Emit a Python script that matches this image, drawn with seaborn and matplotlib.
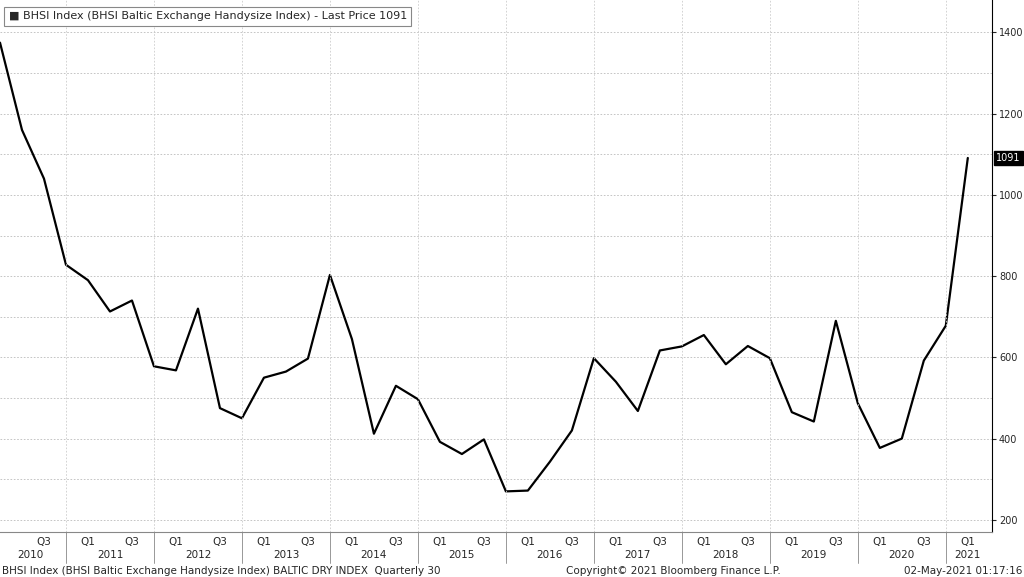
import numpy as np
import pandas as pd
import matplotlib.pyplot as plt
import seaborn as sns

# Quarterly BHSI values, Q1 2010 .. Q1 2021
values = [1375, 1160, 1040, 828, 790, 713, 740, 578, 568, 720, 475, 450,
          550, 565, 597, 803, 645, 412, 530, 497, 392, 362, 398, 270,
          272, 343, 420, 598, 540, 468, 617, 627, 655, 583, 628, 598,
          465, 442, 690, 487, 377, 400, 592, 678, 1091]
years = list(range(2010, 2022))
y_ticks = [200, 400, 600, 800, 1000, 1200, 1400]

df = pd.DataFrame({"q": np.arange(len(values)), "price": values})

sns.set_style("white")
plt.rcParams["font.family"] = ["DejaVu Sans"]

fig = plt.figure(figsize=(10.24, 5.77), dpi=100)
ax = fig.add_axes([0, 0.078, 992 / 1024, 0.922])

sns.lineplot(data=df, x="q", y="price", color="black", linewidth=1.6, ax=ax)

ax.set_xlim(0, 45.1)
ax.set_ylim(170, 1480)
ax.yaxis.tick_right()
ax.set_yticks(y_ticks)
ax.set_yticks(range(300, 1500, 200), minor=True)
ax.tick_params(axis="y", which="major", labelsize=7, length=3, pad=2, direction="out")
ax.tick_params(axis="y", which="minor", length=0)
ax.grid(True, axis="y", which="both", color="#bbbbbb", linestyle=(0, (2, 2)), linewidth=0.6)
ax.set_xlabel("")
ax.set_ylabel("")
ax.set_xticks([])
for s in ["top", "left"]:
    ax.spines[s].set_visible(False)
ax.spines["right"].set_color("black")
ax.spines["bottom"].set_color("#888888")

# year boundaries
for k in range(11):
    ax.axvline(3 + 4 * k, color="#cccccc", linestyle=(0, (2, 2)), linewidth=0.6)

# bottom two-row labels
tr = ax.get_xaxis_transform()
for i in range(1, len(values)):
    qn = i % 4 + 1
    if qn in (1, 3):
        ax.text(i, -0.018, f"Q{qn}", transform=tr, ha="center", va="center", fontsize=7.5)
for k, yr in enumerate(years):
    c = 4 * k + 1 if yr > 2010 else 1.4
    if yr == 2021:
        c = 44
    ax.text(c, -0.043, str(yr), transform=tr, ha="center", va="center", fontsize=7.5)
for k in range(11):
    ax.plot([3 + 4 * k] * 2, [0, -0.058], transform=tr, color="#888888", lw=0.6, clip_on=False)

# last price tag
ax.text(45.3, 1091, "1091", ha="left", va="center", fontsize=7, color="white",
        bbox=dict(boxstyle="square,pad=0.25", fc="black", ec="black"), clip_on=False)

# legend box
ax.text(0.4, 1440, "\u25a0 BHSI Index (BHSI Baltic Exchange Handysize Index) - Last Price 1091",
        fontsize=8, va="center", ha="left",
        bbox=dict(boxstyle="square,pad=0.4", fc="white", ec="#888888", lw=0.8))

fig.text(0.002, 0.006, "BHSI Index (BHSI Baltic Exchange Handysize Index) BALTIC DRY INDEX  Quarterly 30", fontsize=7.5)
fig.text(0.553, 0.006, "Copyright\u00a9 2021 Bloomberg Finance L.P.", fontsize=7.5)
fig.text(0.998, 0.006, "02-May-2021 01:17:16", fontsize=7.5, ha="right")

fig.savefig("out.png", dpi=100)
